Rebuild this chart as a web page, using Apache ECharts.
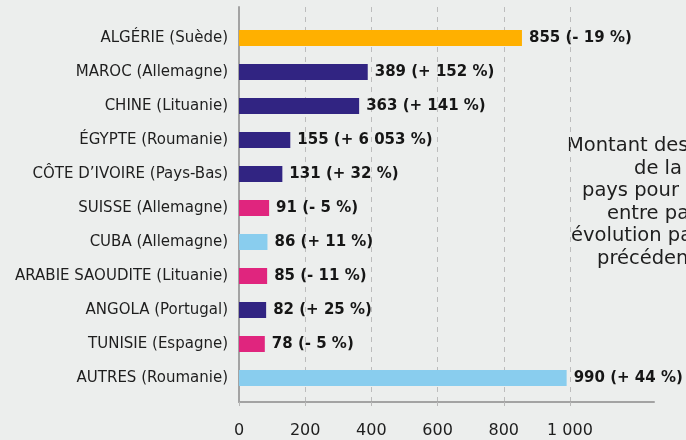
<!DOCTYPE html>
<html><head><meta charset="utf-8">
<script src="https://cdn.jsdelivr.net/npm/echarts@6/dist/echarts.min.js"></script>
<style>html,body{margin:0;padding:0;background:#eceeed}#c{width:686px;height:440px}</style>
</head><body><div id="c"></div>
<script>
const categories = ['ALGÉRIE (Suède)','MAROC (Allemagne)','CHINE (Lituanie)','ÉGYPTE (Roumanie)','CÔTE D’IVOIRE (Pays-Bas)','SUISSE (Allemagne)','CUBA (Allemagne)','ARABIE SAOUDITE (Lituanie)','ANGOLA (Portugal)','TUNISIE (Espagne)','AUTRES (Roumanie)'];
const values = [855,389,363,155,131,91,86,85,82,78,990];
const changes = ['- 19 %','+ 152 %','+ 141 %','+ 6 053 %','+ 32 %','- 5 %','+ 11 %','- 11 %','+ 25 %','- 5 %','+ 44 %'];
const groups = ['orange','indigo','indigo','indigo','indigo','pink','blue','pink','indigo','pink','blue'];
const xTicks = [0,200,400,600,800,1000];
const noteLines = ['Montant des importations','de la France','pays pour 2023 et,','entre parenthèses,','évolution par rapport','précédente'];

const palette = {orange:'#ffb000', indigo:'#312482', pink:'#e0257e', blue:'#89cdee'};
const FONT = '"DejaVu Sans"';
function fmt(v){ return v>=1000 ? Math.floor(v/1000)+' '+String(v%1000).padStart(3,'0') : String(v); }

const chart = echarts.init(document.getElementById('c'));
const AX_MAX = 1254;
chart.setOption({
  backgroundColor:'#eceeed',
  animation:false,
  textStyle:{fontFamily:FONT},
  grid:[
    {left:239,right:32,top:21,bottom:45},
    {left:239,right:32,top:7,bottom:38}
  ],
  xAxis:[
    {gridIndex:0,type:'value',min:0,max:AX_MAX,show:false},
    {gridIndex:1,type:'value',min:0,max:AX_MAX,interval:200,
     axisLine:{show:true,lineStyle:{color:'#a3a3a3',width:2}},
     axisTick:{show:true,length:8,customValues:xTicks,lineStyle:{color:'#b8b8b8',type:[4,4]}},
     axisLabel:{customValues:xTicks,formatter:fmt,fontSize:16,color:'#1e1e1e',margin:21,fontFamily:FONT},
     splitLine:{show:true,lineStyle:{type:[5,5],width:1,color:['rgba(0,0,0,0)','#bcbcbc','#bcbcbc','#bcbcbc','#bcbcbc','#bcbcbc','rgba(0,0,0,0)','rgba(0,0,0,0)','rgba(0,0,0,0)']}}
    }
  ],
  yAxis:[
    {gridIndex:0,type:'category',data:categories,inverse:true,
     axisLine:{show:false},axisTick:{show:false},
     axisLabel:{fontSize:15,color:'#1e1e1e',margin:11,fontFamily:FONT}},
    {gridIndex:1,type:'value',min:0,max:1,
     axisLine:{show:true,lineStyle:{color:'#a3a3a3',width:2}},
     axisTick:{show:false},axisLabel:{show:false},splitLine:{show:false}}
  ],
  series:[{
    type:'bar',xAxisIndex:0,yAxisIndex:0,barWidth:16,
    data:values.map((v,i)=>({value:v,itemStyle:{color:palette[groups[i]]}})),
    label:{show:true,position:'right',distance:7,fontSize:15,fontWeight:'bold',color:'#161616',fontFamily:FONT,
      formatter:p=>fmt(values[p.dataIndex])+' ('+changes[p.dataIndex]+')'}
  }],
  graphic: noteLines.map((t,i)=>({
    type:'text', left:[567,634,582,607,571,597][i], top:136+i*22.6,
    style:{text:t,fontSize:19.5,fill:'#1e1e1e',fontFamily:FONT}
  }))
});
</script></body></html>
